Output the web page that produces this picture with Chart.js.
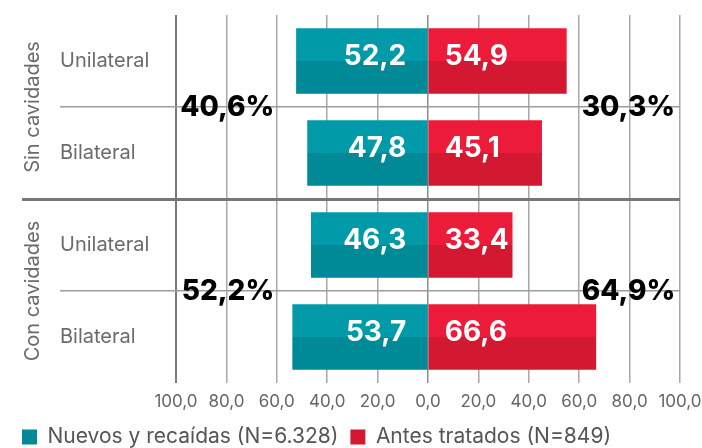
<!DOCTYPE html>
<html><head><meta charset="utf-8">
<script src="https://cdn.jsdelivr.net/npm/chart.js@4"></script>
<style>html,body{margin:0;padding:0;background:#fff}#wrap{width:702px;height:448px}</style>
</head><body><div id="wrap"><canvas id="c" width="702" height="448"></canvas></div>
<script>
const categories = ['Unilateral', 'Bilateral', 'Unilateral', 'Bilateral'];
const groups = ['Sin cavidades', 'Con cavidades'];
const seriesNames = ['Nuevos y recaídas (N=6.328)', 'Antes tratados (N=849)'];
const nuevos = [52.2, 47.8, 46.3, 53.7];
const antes = [54.9, 45.1, 33.4, 66.6];
const groupNuevos = ['40,6%', '52,2%'];
const groupAntes = ['30,3%', '64,9%'];
const xTickValues = [-100, -80, -60, -40, -20, 0, 20, 40, 60, 80, 100];

const FONT = 'Inter, "Open Sans", sans-serif';
const BAR_T = 65;
const fmt = v => Math.abs(v).toFixed(1).replace('.', ',');

function twoTone(top, bottom) {
  return function (ctx) {
    if (ctx.type !== 'data' || ctx.dataIndex === undefined) return top;
    const ys = ctx.chart.scales.y;
    if (!ys) return top;
    const cy = ys.getPixelForValue(ctx.dataIndex);
    if (!isFinite(cy)) return top;
    const g = ctx.chart.ctx.createLinearGradient(0, cy - BAR_T / 2, 0, cy + BAR_T / 2);
    g.addColorStop(0, top); g.addColorStop(0.5, top);
    g.addColorStop(0.5, bottom); g.addColorStop(1, bottom);
    return g;
  };
}

const valueLabels = {
  id: 'valueLabels',
  afterDatasetsDraw(chart) {
    const c = chart.ctx;
    c.save();
    c.font = '700 28px ' + FONT;
    c.fillStyle = '#ffffff';
    c.textBaseline = 'middle';
    chart.data.datasets.forEach((ds, di) => {
      const meta = chart.getDatasetMeta(di);
      meta.data.forEach((el, i) => {
        const v = ds.data[i];
        if (v < 0) { c.textAlign = 'right'; c.fillText(fmt(v), el.base - 21, el.y - 4); }
        else { c.textAlign = 'left'; c.fillText(fmt(v), el.base + 16, el.y - 4); }
      });
    });
    const xs = chart.scales.x, ys = chart.scales.y;
    c.font = '800 28px ' + FONT;
    c.fillStyle = '#000000';
    groups.forEach((g, gi) => {
      const y = (ys.getPixelForValue(gi * 2) + ys.getPixelForValue(gi * 2 + 1)) / 2 + 1;
      c.textAlign = 'right'; c.fillText(groupNuevos[gi], xs.getPixelForValue(-61), y);
      c.textAlign = 'left'; c.fillText(groupAntes[gi], xs.getPixelForValue(61), y);
    });
    c.font = '400 20px ' + FONT;
    c.fillStyle = '#6b6b6b';
    c.textAlign = 'center';
    groups.forEach((g, gi) => {
      const y = (ys.getPixelForValue(gi * 2) + ys.getPixelForValue(gi * 2 + 1)) / 2;
      c.save();
      c.translate(33, y);
      c.rotate(-Math.PI / 2);
      c.fillText(g, 0, 0);
      c.restore();
    });
    c.restore();
  }
};

new Chart(document.getElementById('c'), {
  type: 'bar',
  data: {
    labels: categories,
    datasets: [
      { label: seriesNames[0], data: nuevos.map(v => -v), backgroundColor: twoTone('#009aa8', '#008996'), borderWidth: 0, barThickness: BAR_T },
      { label: seriesNames[1], data: antes, backgroundColor: twoTone('#ed1b3a', '#d31831'), borderWidth: 0, barThickness: BAR_T }
    ]
  },
  options: {
    indexAxis: 'y',
    responsive: false,
    animation: false,
    devicePixelRatio: 1,
    layout: { padding: { top: 12, right: 22, left: 10, bottom: -9.5 } },
    scales: {
      x: {
        type: 'linear', min: -100, max: 100, stacked: true,
        afterBuildTicks: s => { s.ticks = xTickValues.map(v => ({ value: v })); },
        afterFit: s => { s.height = 31.5; s.paddingLeft = 0; s.paddingRight = 0; },
        border: { display: false },
        grid: {
          drawTicks: false,
          color: ctx => ctx.tick && ctx.tick.value === -100 ? '#7a7a7a' : (ctx.tick && ctx.tick.value === 0 ? '#8c8c8c' : '#a8a8a8'),
          lineWidth: ctx => ctx.tick && ctx.tick.value === -100 ? 2 : 1.5
        },
        ticks: { padding: 9, color: '#666666', font: { family: FONT, size: 17, weight: '400' }, callback: v => fmt(v) }
      },
      y: {
        type: 'category', stacked: true, position: 'left', weight: 0,
        afterFit: s => { s.width = 116; },
        border: { display: false },
        grid: {
          offset: true, tickLength: 116,
          color: ctx => ['rgba(0,0,0,0)', '#9c9c9c', '#777777', '#9c9c9c', 'rgba(0,0,0,0)'][ctx.index],
          lineWidth: ctx => [0, 1.5, 3, 1.5, 0][ctx.index]
        },
        ticks: { crossAlign: 'far', color: '#6b6b6b', font: { family: FONT, size: 20 } }
      },
      yGroup: {
        type: 'category', labels: groups, position: 'left', weight: 1,
        afterFit: s => { s.width = 50; },
        border: { display: false },
        grid: {
          offset: true, drawOnChartArea: false, tickLength: 38,
          color: ctx => ['rgba(0,0,0,0)', '#777777', 'rgba(0,0,0,0)'][ctx.index],
          lineWidth: ctx => [0, 3, 0][ctx.index]
        },
        ticks: { display: false }
      }
    },
    plugins: {
      legend: {
        position: 'bottom', align: 'start',
        labels: { boxWidth: 15, boxHeight: 15, padding: 12, color: '#555555', font: { family: FONT, size: 21 } }
      },
      tooltip: { enabled: false },
      title: { display: false }
    }
  },
  plugins: [valueLabels]
});
</script></body></html>
